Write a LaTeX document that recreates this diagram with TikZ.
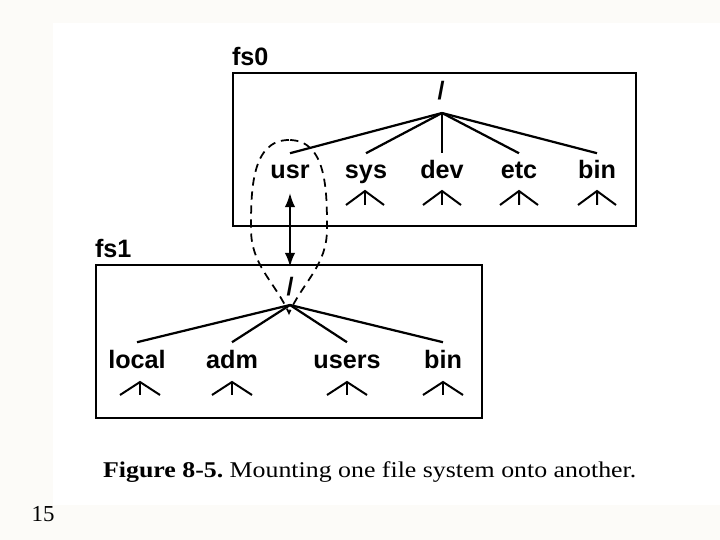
\documentclass[tikz,border=0pt]{standalone}
\usepackage{fontspec}
\setmainfont{Liberation Serif}
\setsansfont{Liberation Sans}
\newfontfamily\capfont[FakeStretch=1.15]{Liberation Serif}
\usepackage{xcolor}
\usetikzlibrary{positioning, arrows.meta, calc, fit}

\definecolor{paper}{HTML}{FCFBF8}

\begin{document}
\begin{tikzpicture}[
  x=0.03cm, y=-0.03cm,
  lbl/.style={font=\fontsize{21.5}{25}\selectfont\sffamily\bfseries, inner sep=6.8pt, text height=15pt, text depth=0pt, anchor=base},
  root/.style={font=\fontsize{21.5}{25}\selectfont\sffamily\bfseries, inner sep=1pt},
  fsbox/.style={draw, line width=2pt, inner sep=0pt},
  edge/.style={line width=1.9pt},
  subtree/.style={line width=1.7pt},
  mount/.style={{Latex[length=12pt,width=9pt]}-{Latex[length=12pt,width=9pt]}, line width=1.8pt},
  mountpt/.style={dashed, dash pattern=on 7pt off 5pt, line width=1.5pt}
]

% Page and scan area
\fill[paper] (0,0) rectangle (720,540);
\fill[white] (53,23) rectangle (720,505);
\useasboundingbox (0,0) rectangle (720,540);

% File system fs0
\coordinate (a0) at (233,73);
\coordinate (b0) at (636,226);
\node[fsbox, fit=(a0)(b0)] (box0) {};
\node[lbl, anchor=south west, inner sep=0pt, above right=5pt and 0pt of box0.north west] (fs0) {fs0};
\node[root] (root0) at (441,91) {/};
\coordinate (hub0) at (442,113);
\foreach \n/\x/\t in {usr/290/usr, sys/366/sys, dev/442/dev, etc/519/etc, bin0/597/bin}{
  \node[lbl] (\n) at (\x,179) {\t};
  \draw[edge] (hub0) -- (\n.north);
}
\foreach \x in {365, 442, 519, 597}
  \draw[subtree] (\x-19,205) -- (\x,191) -- (\x+19,205) (\x,191) -- (\x,205);

% File system fs1
\coordinate (a1) at (96,265);
\coordinate (b1) at (482,418);
\node[fsbox, fit=(a1)(b1)] (box1) {};
\node[lbl, anchor=south west, inner sep=0pt, above right=5pt and 0pt of box1.north west] (fs1) {fs1};
\node[root] (root1) at (290,287) {/};
\coordinate (hub1) at (290,305);
\foreach \n/\x/\t in {local/137/local, adm/232/adm, users/347/users, bin1/443/bin}{
  \node[lbl] (\n) at (\x,368) {\t};
  \draw[edge] (hub1) -- (\n.north);
}
\foreach \x in {140, 232, 347, 443}
  \draw[subtree] (\x-20,395) -- (\x,382) -- (\x+20,395) (\x,382) -- (\x,395);

% Mount
\draw[mount, shorten <=5pt, shorten >=8pt] (usr.south) -- (root1.north);
\coordinate (mt) at (289,140);
\coordinate (ml) at (251,229);
\coordinate (mb) at (289,313);
\coordinate (mr) at (327,229);
\draw[mountpt] (mt) to[out=180, in=90] (ml) to[out=-90, in=115] (mb)
  to[out=65, in=-90] (mr) to[out=90, in=0] (mt);

% Caption
\node[font=\capfont\fontsize{19.2}{22}\selectfont, anchor=base west] (cap) at (99,477)
  {\textbf{Figure 8-5.}\kern-2pt{} Mounting one file system onto another.};
\node[font=\fontsize{19.5}{23}\selectfont] (page) at (43,514) {15};

\end{tikzpicture}
\end{document}
